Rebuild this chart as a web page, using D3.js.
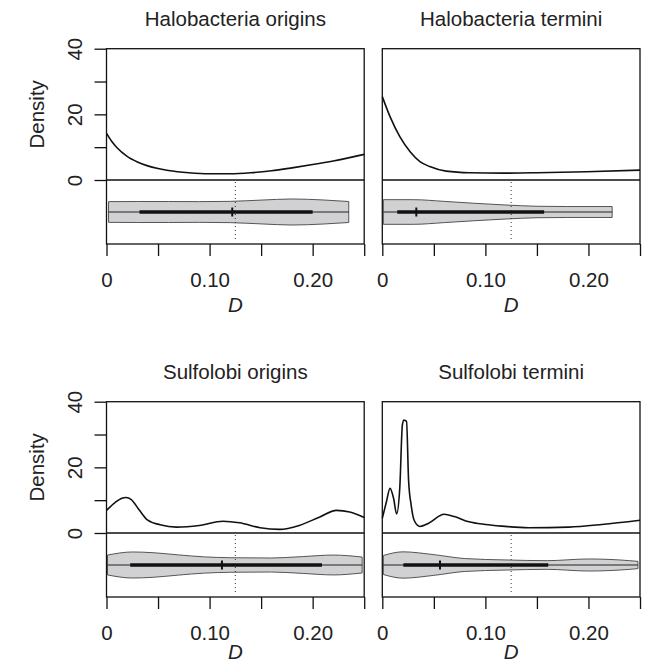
<!DOCTYPE html>
<html lang="en">
<head>
  <meta charset="UTF-8" />
  <title>Density of D</title>
  <style>
    body {
      margin: 0;
      padding: 0;
      background: white;
    }
    svg {
      display: block;
      font-family: "Liberation Sans", Arial, sans-serif;
    }
    .frame {
      fill: none;
      stroke: #111;
      stroke-width: 1.3;
    }
    .density {
      fill: none;
      stroke: #111;
      stroke-width: 1.6;
    }
    .violin {
      fill: #d1d1d3;
      stroke: #555;
      stroke-width: 1;
    }
    .axis path { display: none; }
    .axis line { stroke: #111; stroke-width: 1.3; }
    .axis text { font-size: 20.5px; fill: #222; font-family: "Liberation Sans", Arial, sans-serif; }
  </style>
</head>
<body>
<svg id="chart" width="645" height="664"></svg>

<script src="https://cdn.jsdelivr.net/npm/d3@7/dist/d3.min.js"></script>
<script>
  // panel titles, in drawing order (row by row)
  const titles = ["Halobacteria origins", "Halobacteria termini", "Sulfolobi origins", "Sulfolobi termini"];

  // density curves: [D, density]
  const haloOriginsDensity = [
    [0, 14.2], [0.005, 11.8], [0.01, 9.9], [0.02, 7.2], [0.03, 5.5], [0.04, 4.3], [0.05, 3.5],
    [0.06, 2.9], [0.08, 2.2], [0.10, 1.9], [0.12, 1.9], [0.14, 2.2], [0.16, 2.8], [0.18, 3.7],
    [0.20, 4.7], [0.22, 5.8], [0.25, 7.8]
  ];
  const haloTerminiDensity = [
    [0, 25.4], [0.0075, 19.3], [0.017, 13.2], [0.027, 8.6], [0.0365, 5.6], [0.046, 4.1],
    [0.062, 2.7], [0.085, 2.2], [0.117, 2.1], [0.15, 2.2], [0.198, 2.5], [0.25, 3.0]
  ];
  const sulfoOriginsDensity = [
    [0, 6.9], [0.008, 9.2], [0.015, 10.6], [0.019, 10.8], [0.024, 10.2], [0.032, 6.9], [0.040, 3.9],
    [0.052, 2.5], [0.068, 1.8], [0.09, 2.3], [0.113, 3.6], [0.129, 3.1], [0.149, 1.6],
    [0.168, 1.1], [0.187, 2.3], [0.207, 4.9], [0.223, 6.9], [0.236, 6.4], [0.25, 4.7]
  ];
  const sulfoTerminiDensity = [
    [0, 4.5], [0.004, 9.5], [0.0075, 13.6], [0.011, 10.5], [0.0139, 5.8], [0.017, 14],
    [0.0195, 33], [0.021, 34.4], [0.0235, 34], [0.0255, 16], [0.028, 8.5], [0.031, 3.8],
    [0.0365, 2.0], [0.045, 3.0], [0.06, 5.7], [0.07, 5.0], [0.084, 3.4], [0.10, 2.6],
    [0.116, 2.1], [0.142, 1.6], [0.181, 1.8], [0.213, 2.6], [0.25, 3.9]
  ];

  // violin half widths (relative): [D, width]
  const haloOriginsViolin = [
    [0.002, 0.74], [0.03, 0.75], [0.06, 0.75], [0.09, 0.74], [0.12, 0.76], [0.15, 0.85],
    [0.18, 0.93], [0.21, 0.86], [0.235, 0.75]
  ];
  const haloTerminiViolin = [
    [0.001, 0.88], [0.03, 0.88], [0.06, 0.76], [0.09, 0.62], [0.12, 0.5], [0.15, 0.41],
    [0.18, 0.39], [0.223, 0.39]
  ];
  const sulfoOriginsViolin = [
    [0.001, 0.71], [0.025, 0.93], [0.045, 0.88], [0.07, 0.72], [0.095, 0.58], [0.12, 0.52],
    [0.16, 0.5], [0.19, 0.6], [0.22, 0.71], [0.248, 0.57]
  ];
  const sulfoTerminiViolin = [
    [0.001, 0.68], [0.02, 0.94], [0.05, 0.74], [0.08, 0.46], [0.12, 0.36], [0.16, 0.31],
    [0.20, 0.43], [0.24, 0.31], [0.248, 0.26]
  ];

  // box summaries: [min, q1, median, q3, max]
  const boxStats = [
    [0.002, 0.032, 0.122, 0.200, 0.235],
    [0.001, 0.0145, 0.033, 0.157, 0.223],
    [0.001, 0.023, 0.112, 0.209, 0.248],
    [0.001, 0.0204, 0.056, 0.161, 0.248]
  ];
  const referenceD = 0.125;

  const xTicks = [0, 0.05, 0.10, 0.15, 0.20, 0.25];
  const xTickLabels = ["0", "", "0.10", "", "0.20", ""];
  const yTicks = [0, 10, 20, 30, 40];
  const yTickLabels = ["0", "", "20", "", "40"];

  const densities = [haloOriginsDensity, haloTerminiDensity, sulfoOriginsDensity, sulfoTerminiDensity];
  const violins = [haloOriginsViolin, haloTerminiViolin, sulfoOriginsViolin, sulfoTerminiViolin];

  const svg = d3.select("#chart");
  svg.append("rect").attr("width", 645).attr("height", 664).attr("fill", "white");

  const colLeft = [106.5, 382.3];
  const rowTop = [48.7, 401.7];
  const dLabelOffset = [68, 62.5]; // bottom row sits right on the page edge
  const panelW = 257.7;
  const densH = 131.3;
  const violH = 64;

  const x = d3.scaleLinear().domain([0, 0.25]).range([0, panelW]);
  const y = d3.scaleLinear().domain([0, 40]).range([densH, 0]);
  const w = d3.scaleLinear().domain([0, 1]).range([0, 14]);
  const vc = densH + violH / 2;

  const densLine = d3.line()
    .x(d => x(d[0]))
    .y(d => y(d[1]))
    .curve(d3.curveMonotoneX);

  const violArea = d3.area()
    .x(d => x(d[0]))
    .y0(d => vc + w(d[1]))
    .y1(d => vc - w(d[1]))
    .curve(d3.curveMonotoneX);

  titles.forEach((title, i) => {
    const row = Math.floor(i / 2), col = i % 2;
    const g = svg.append("g")
      .attr("transform", `translate(${colLeft[col]},${rowTop[row]})`);

    g.append("text")
      .attr("x", panelW / 2)
      .attr("y", -23)
      .attr("text-anchor", "middle")
      .attr("font-size", 20.5)
      .attr("fill", "#222")
      .text(title);

    // violin
    g.append("path").attr("class", "violin").attr("d", violArea(violins[i]));
    const s = boxStats[i];
    g.append("line")
      .attr("x1", x(s[0])).attr("x2", x(s[4]))
      .attr("y1", vc).attr("y2", vc)
      .attr("stroke", "#222").attr("stroke-width", 1);
    g.append("line")
      .attr("x1", x(s[1])).attr("x2", x(s[3]))
      .attr("y1", vc).attr("y2", vc)
      .attr("stroke", "#111").attr("stroke-width", 3.5);
    g.append("line")
      .attr("x1", x(s[2])).attr("x2", x(s[2]))
      .attr("y1", vc - 4.5).attr("y2", vc + 4.5)
      .attr("stroke", "#111").attr("stroke-width", 2);

    // dotted reference line
    g.append("line")
      .attr("x1", x(referenceD)).attr("x2", x(referenceD))
      .attr("y1", densH + 2).attr("y2", densH + violH - 4)
      .attr("stroke", "#333").attr("stroke-width", 1)
      .attr("stroke-dasharray", "1,3");

    // density curve
    g.append("path").attr("class", "density").attr("d", densLine(densities[i]));

    // frame
    g.append("rect").attr("class", "frame")
      .attr("width", panelW).attr("height", densH + violH);
    g.append("line").attr("class", "frame")
      .attr("x1", 0).attr("x2", panelW).attr("y1", densH).attr("y2", densH);

    // x axis
    g.append("g").attr("class", "axis")
      .attr("transform", `translate(0,${densH + violH})`)
      .call(d3.axisBottom(x).tickValues(xTicks)
        .tickFormat((d, k) => xTickLabels[k]).tickSize(12).tickPadding(16.6));

    g.append("text")
      .attr("x", panelW / 2)
      .attr("y", densH + violH + dLabelOffset[row])
      .attr("text-anchor", "middle")
      .attr("font-size", 20.5)
      .attr("font-style", "italic")
      .attr("fill", "#222")
      .text("D");

    if (col === 0) {
      const ya = g.append("g").attr("class", "axis")
        .call(d3.axisLeft(y).tickValues(yTicks)
          .tickFormat((d, k) => yTickLabels[k]).tickSize(12));
      ya.selectAll("text")
        .attr("x", 0).attr("y", -24.5).attr("dy", 0)
        .attr("text-anchor", "middle")
        .attr("transform", "rotate(-90)");

      g.append("text")
        .attr("transform", `translate(-63,${densH / 2}) rotate(-90)`)
        .attr("text-anchor", "middle")
        .attr("font-size", 20.5)
        .attr("fill", "#222")
        .text("Density");
    }
  });
</script>
</body>
</html>
